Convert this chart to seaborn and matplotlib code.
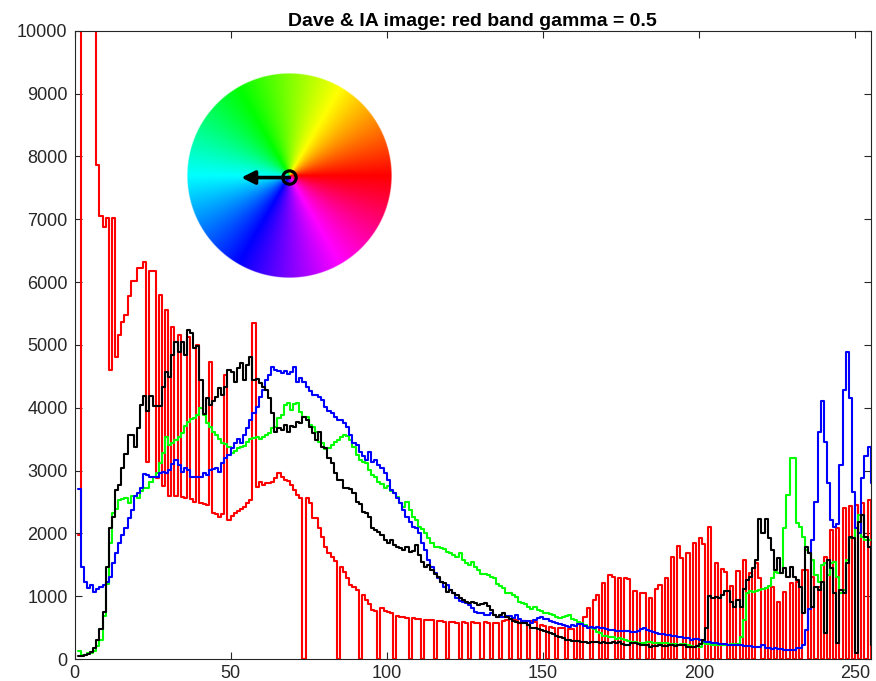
import numpy as np
import matplotlib
matplotlib.use("Agg")
import matplotlib.pyplot as plt
from matplotlib.colors import hsv_to_rgb
from matplotlib.patches import Circle
import seaborn as sns

# Histogram counts per intensity bin (bins 0..255), one list per band
red = [
    1973, 15800, 14200, 12900, 11600, 10700, 7865, 7053, 6883, 7016,
    4601, 7016, 4814, 5150, 5370, 5480, 5770, 6010, 6010, 6220,
    6220, 6325, 3140, 6170, 6170, 2880, 5800, 2750, 5560, 2600,
    5290, 2600, 5160, 2580, 2560, 5120, 2540, 2500, 5000, 2480,
    2460, 2450, 4730, 2320, 2300, 2260, 2300, 4520, 2210, 2280,
    2330, 2360, 2380, 2420, 2480, 2530, 5355, 2740, 2820, 2770,
    2800, 2800, 2820, 2875, 2966, 2902, 2850, 2840, 2770, 2690,
    2610, 2560, 0, 2557, 2477, 2240, 2238, 2079, 1946, 1787,
    1680, 1620, 1560, 0, 1468, 1389, 1283, 1180, 1150, 1100,
    0, 1017, 937, 880, 778, 770, 0, 805, 770, 750,
    740, 0, 690, 672, 665, 660, 0, 650, 640, 640,
    0, 620, 620, 615, 0, 600, 600, 590, 0, 585,
    590, 580, 0, 590, 575, 0, 590, 570, 580, 0,
    590, 580, 0, 580, 575, 0, 600, 620, 0, 630,
    620, 0, 610, 605, 0, 600, 590, 0, 540, 520,
    0, 510, 500, 0, 500, 490, 0, 480, 470, 0,
    560, 0, 674, 806, 0, 939, 1019, 0, 1205, 0,
    1337, 1300, 0, 1284, 0, 1284, 1270, 0, 1087, 0,
    1045, 1045, 0, 965, 0, 1108, 1177, 0, 1284, 0,
    1629, 0, 1799, 1602, 0, 1682, 0, 1852, 0, 1921,
    1831, 0, 2107, 0, 1523, 0, 1427, 1390, 0, 1161,
    0, 1406, 0, 1576, 0, 1374, 0, 1533, 1284, 0,
    1124, 0, 1150, 0, 911, 0, 1071, 0, 1204, 0,
    1230, 0, 1416, 1420, 0, 1300, 0, 1150, 0, 1628,
    0, 2053, 0, 2079, 0, 2398, 0, 2435, 0, 2450,
    0, 2480, 0, 2531, 0, 2600,
]

green = [
    120, 60, 60, 88, 88, 130, 200, 300, 690, 1200,
    1840, 2320, 2380, 2530, 2546, 2557, 2477, 2594, 2594, 2557,
    2679, 2716, 2716, 2822, 2902, 2955, 3114, 3284, 3539, 3406,
    3433, 3486, 3539, 3603, 3709, 3778, 3826, 3831, 3885, 3991,
    3885, 3752, 3699, 3619, 3566, 3497, 3444, 3420, 3380, 3274,
    3316, 3354, 3380, 3390, 3460, 3497, 3513, 3539, 3497, 3530,
    3566, 3592, 3672, 3699, 3831, 3885, 4044, 4070, 3964, 4060,
    4070, 3937, 3858, 3850, 3725, 3699, 3619, 3460, 3433, 3337,
    3354, 3406, 3460, 3486, 3539, 3566, 3550, 3480, 3380, 3247,
    3168, 3140, 3114, 3008, 2929, 2900, 2822, 2790, 2716, 2750,
    2680, 2637, 2584, 2488, 2424, 2504, 2371, 2265, 2212, 2106,
    2063, 1999, 1920, 1840, 1787, 1787, 1760, 1744, 1707, 1681,
    1660, 1628, 1680, 1575, 1522, 1500, 1550, 1468, 1415, 1351,
    1360, 1340, 1300, 1284, 1193, 1160, 1124, 1045, 1045, 1020,
    981, 912, 885, 875, 832, 790, 832, 779, 760, 737,
    726, 715, 700, 674, 646, 673, 690, 700, 640, 620,
    594, 567, 540, 514, 500, 472, 434, 408, 371, 360,
    355, 345, 320, 329, 315, 302, 290, 275, 265, 249,
    255, 260, 275, 270, 255, 249, 260, 255, 250, 245,
    239, 232, 222, 239, 239, 220, 206, 196, 200, 195,
    248, 245, 238, 230, 222, 222, 222, 222, 225, 232,
    235, 238, 354, 620, 1045, 1087, 1070, 1087, 1097, 1110,
    1124, 1161, 1283, 1389, 1363, 1363, 2079, 2611, 3195, 3195,
    2170, 2106, 1947, 1734, 1681, 1575, 1336, 1230, 1495, 1522,
    1336, 1522, 1549, 1309, 1044, 1097, 1575, 1920, 1920, 2079,
    2292, 1947, 1894, 1894, 1900, 1900,
]

blue = [
    2706, 1468, 1230, 1123, 1176, 1060, 1107, 1150, 1176, 1230,
    1309, 1522, 1681, 1840, 1973, 2079, 2249, 2371, 2594, 2637,
    2716, 2939, 2929, 2902, 2891, 2902, 2966, 2982, 2966, 3008,
    3099, 3168, 3088, 2982, 3035, 3008, 2902, 2902, 2902, 2902,
    2955, 2929, 3008, 3020, 3035, 2982, 3125, 3194, 3247, 3354,
    3433, 3497, 3444, 3566, 3672, 3805, 3911, 4017, 4177, 4283,
    4442, 4522, 4644, 4601, 4591, 4559, 4591, 4538, 4570, 4644,
    4415, 4468, 4415, 4325, 4272, 4203, 4203, 4177, 4123, 4017,
    3953, 3911, 3858, 3805, 3805, 3750, 3699, 3566, 3433, 3406,
    3300, 3230, 3168, 3300, 3141, 3168, 3088, 3035, 2955, 2849,
    2690, 2637, 2557, 2477, 2371, 2265, 2180, 2106, 2079, 1999,
    1840, 1734, 1575, 1468, 1362, 1283, 1230, 1150, 1176, 1097,
    1044, 964, 930, 911, 895, 858, 805, 752, 730, 725,
    700, 699, 737, 700, 662, 662, 662, 680, 690, 645,
    700, 630, 609, 609, 609, 577, 620, 646, 662, 640,
    630, 600, 593, 567, 560, 540, 524, 514, 540, 530,
    560, 560, 530, 500, 510, 500, 503, 500, 488, 480,
    461, 455, 445, 440, 440, 440, 440, 435, 435, 440,
    480, 500, 460, 440, 430, 410, 400, 390, 382, 375,
    365, 360, 350, 344, 335, 328, 310, 312, 320, 301,
    285, 275, 265, 250, 248, 245, 237, 237, 230, 222,
    222, 222, 215, 212, 212, 205, 195, 190, 195, 222,
    168, 168, 165, 168, 160, 152, 150, 141, 141, 141,
    168, 168, 221, 460, 800, 1900, 2504, 3619, 4113, 3460,
    2796, 2212, 2106, 2150, 3088, 4283, 4894, 4150, 2664, 2079,
    2000, 2876, 3232, 3380, 2800, 2800,
]

black = [
    45, 55, 60, 75, 110, 170, 310, 480, 750, 1470,
    2080, 2265, 2690, 2770, 3035, 3270, 3565, 3565, 3380, 3670,
    4040, 4190, 3950, 4190, 4030, 4030, 4030, 4335, 4575, 4495,
    4840, 5050, 4890, 5050, 4840, 5240, 5185, 4950, 4985, 4440,
    3900, 4150, 4040, 4100, 4177, 4309, 4203, 4336, 4601, 4575,
    4415, 4628, 4718, 4442, 4681, 4814, 4442, 4453, 4389, 4330,
    4283, 4150, 3911, 3619, 3672, 3646, 3725, 3619, 3709, 3699,
    3778, 3752, 3858, 3805, 3699, 3592, 3486, 3619, 3380, 3354,
    3194, 3114, 2955, 2849, 2849, 2716, 2716, 2700, 2637, 2504,
    2467, 2340, 2318, 2265, 2079, 2053, 2026, 1973, 1893, 1840,
    1893, 1814, 1787, 1760, 1734, 1787, 1707, 1720, 1814, 1654,
    1548, 1468, 1495, 1415, 1350, 1309, 1230, 1203, 1070, 1097,
    1054, 1017, 964, 937, 911, 895, 911, 895, 858, 873,
    896, 843, 779, 700, 662, 700, 726, 673, 630, 610,
    593, 577, 567, 577, 540, 500, 487, 470, 460, 450,
    430, 410, 390, 370, 350, 330, 310, 300, 290, 280,
    280, 275, 270, 260, 275, 270, 275, 260, 275, 250,
    248, 275, 259, 270, 240, 230, 225, 248, 250, 240,
    222, 222, 222, 195, 200, 210, 222, 210, 205, 222,
    215, 210, 215, 222, 222, 184, 195, 195, 200, 240,
    300, 500, 1002, 965, 990, 965, 1018, 1087, 1087, 912,
    832, 938, 832, 1108, 1257, 1310, 1442, 1576, 2230, 2000,
    2230, 1920, 1734, 1416, 1601, 1373, 1442, 1309, 1458, 1309,
    1257, 1150, 726, 1788, 1692, 832, 1150, 1097, 1230, 407,
    1575, 1442, 1044, 248, 1097, 1044, 1522, 1947, 1920, 88,
    2186, 2292, 1947, 1788, 221, 221,
]

x_ticks = [0, 50, 100, 150, 200, 250]
y_ticks = list(range(0, 10001, 1000))
title = "Dave & IA image: red band gamma = 0.5"

sns.set_theme(style="ticks")
plt.rcParams["font.family"] = ["Liberation Sans", "DejaVu Sans"]

fig = plt.figure(figsize=(8.76, 6.81), dpi=100)
ax = fig.add_axes([74.5 / 876, 1 - 659 / 681, (870.7 - 74.5) / 876, (659 - 30.7) / 681])

# stairs-style histograms, one step per bin (1-based positions)
pos = np.arange(1, len(red) + 1)
for vals, col in [(red, (1, 0, 0)), (green, (0, 1, 0)), (blue, (0, 0, 1)), (black, (0, 0, 0))]:
    sns.lineplot(x=pos, y=vals, color=col, drawstyle="steps-post", linewidth=1.5,
                 estimator=None, sort=False, ax=ax)

ax.set_xlim(0, 255)
ax.set_ylim(0, 10000)
ax.set_xticks(x_ticks)
ax.set_yticks(y_ticks)
ax.set_xlabel("")
ax.set_ylabel("")
ax.tick_params(direction="in", top=True, right=True, length=5, width=0.8,
               color="#262626", labelsize=13, labelcolor="#262626")
ax.tick_params(axis="y", pad=5)
ax.tick_params(axis="x", pad=4)
for s in ax.spines.values():
    s.set_color("#262626")
    s.set_linewidth(0.8)
ax.set_title(title, fontsize=14, fontweight="bold", pad=3.5, color="black")

# hue wheel inset with direction arrow
wax = fig.add_axes([186 / 876, 1 - 278 / 681, 207 / 876, 205 / 681])
n = 500
g = np.linspace(-1, 1, n)
X, Y = np.meshgrid(g, g)
R = np.hypot(X, Y)
H = (np.arctan2(Y, X) / (2 * np.pi)) % 1.0
rgb = hsv_to_rgb(np.dstack([H, np.ones_like(H), np.ones_like(H)]))
alpha = np.clip((1 - R) * n / 2, 0, 1)
img = np.dstack([rgb, alpha])
wax.imshow(img, origin="lower", extent=[-1, 1, -1, 1], interpolation="bilinear")
wax.set_xlim(-1, 1)
wax.set_ylim(-1, 1)
wax.set_aspect("equal")
wax.axis("off")
wax.annotate("", xy=(-0.47, -0.02), xytext=(0.0, -0.02),
             arrowprops=dict(arrowstyle="-|>", lw=2.6, color="black", mutation_scale=20,
                             shrinkA=0, shrinkB=0))
wax.add_patch(Circle((0.0, -0.02), 0.065, fill=False, lw=2.3, edgecolor="black"))

fig.savefig("out.png", dpi=100)
